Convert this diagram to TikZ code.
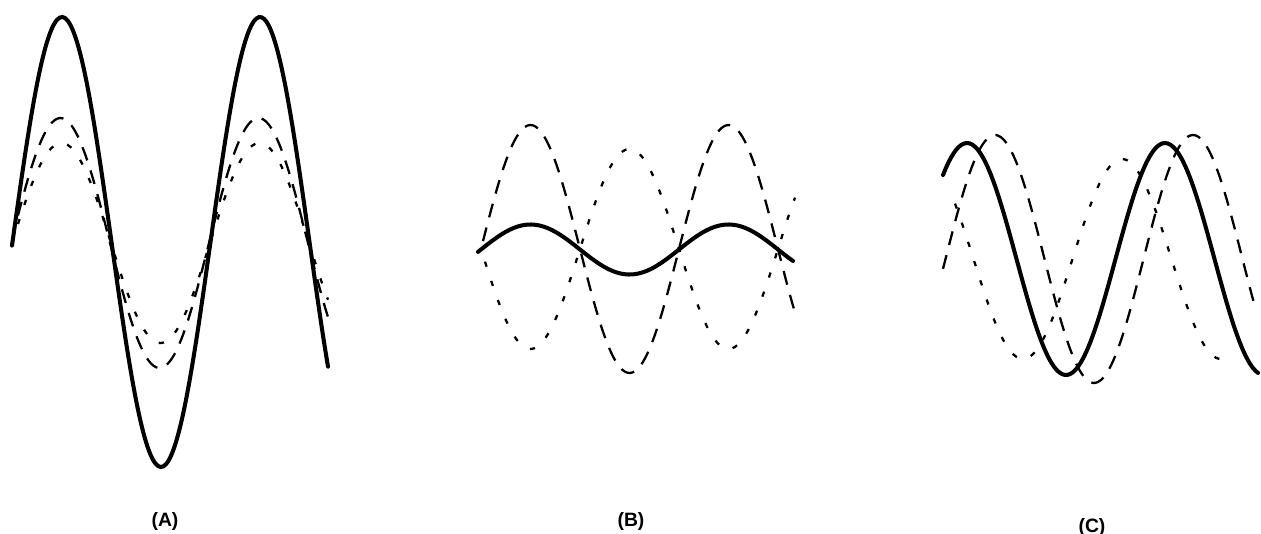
\documentclass[tikz,border=0pt]{standalone}
\usepackage{fontspec}
\setsansfont{Liberation Sans}
\usepackage{tikz}

\begin{document}
\begin{tikzpicture}[
      x=0.02cm, y=-0.02cm,
      sumwave/.style={line width=2.3pt, line cap=round},
      longwave/.style={line width=1.3pt, dash pattern=on 8pt off 6pt},
      shortwave/.style={line width=1.3pt, dash pattern=on 3pt off 8.5pt},
      lbl/.style={font=\sffamily\bfseries\fontsize{11}{13}\selectfont}
    ]
    \useasboundingbox (0,0) rectangle (1261,534);

    % (A) in phase
    \draw[longwave]  plot[domain=18:328, samples=120, smooth] (\x,{243-125*sin((\x-11)*1.81818)});
    \draw[shortwave] plot[domain=18:328, samples=120, smooth] (\x,{243-100*sin((\x-12)*1.81818)});
    \draw[sumwave]   plot[domain=12:328, samples=120, smooth] (\x,{242-225*sin((\x-12.5)*1.81818)});

    % (B) out of phase
    \draw[longwave]  plot[domain=483:795, samples=120, smooth] (\x,{249-124*sin((\x-481)*1.81818)});
    \draw[shortwave] plot[domain=485:795, samples=120, smooth] (\x,{249+100*sin((\x-481)*1.81818)});
    \draw[sumwave]   plot[domain=478:793, samples=120, smooth] (\x,{249.5-25*sin((\x-481)*1.81818)});

    % (C) partly shifted
    \draw[longwave]  plot[domain=943:1256, samples=120, smooth] (\x,{259-124*sin((\x-945.5)*1.81818)});
    \draw[shortwave] plot[domain=955:1225, samples=120, smooth] (\x,{259-100*sin((\x-1072.5)*1.81818)});
    \draw[sumwave]   plot[domain=943:1258, samples=120, smooth] (\x,{259-116*sin((\x-917.5)*1.81818)});

    \node[lbl] (capA) at (165,521) {(A)};
    \node[lbl] (capB) at (631,521) {(B)};
    \node[lbl] (capC) at (1092,527) {(C)};
  \end{tikzpicture}
\end{document}
